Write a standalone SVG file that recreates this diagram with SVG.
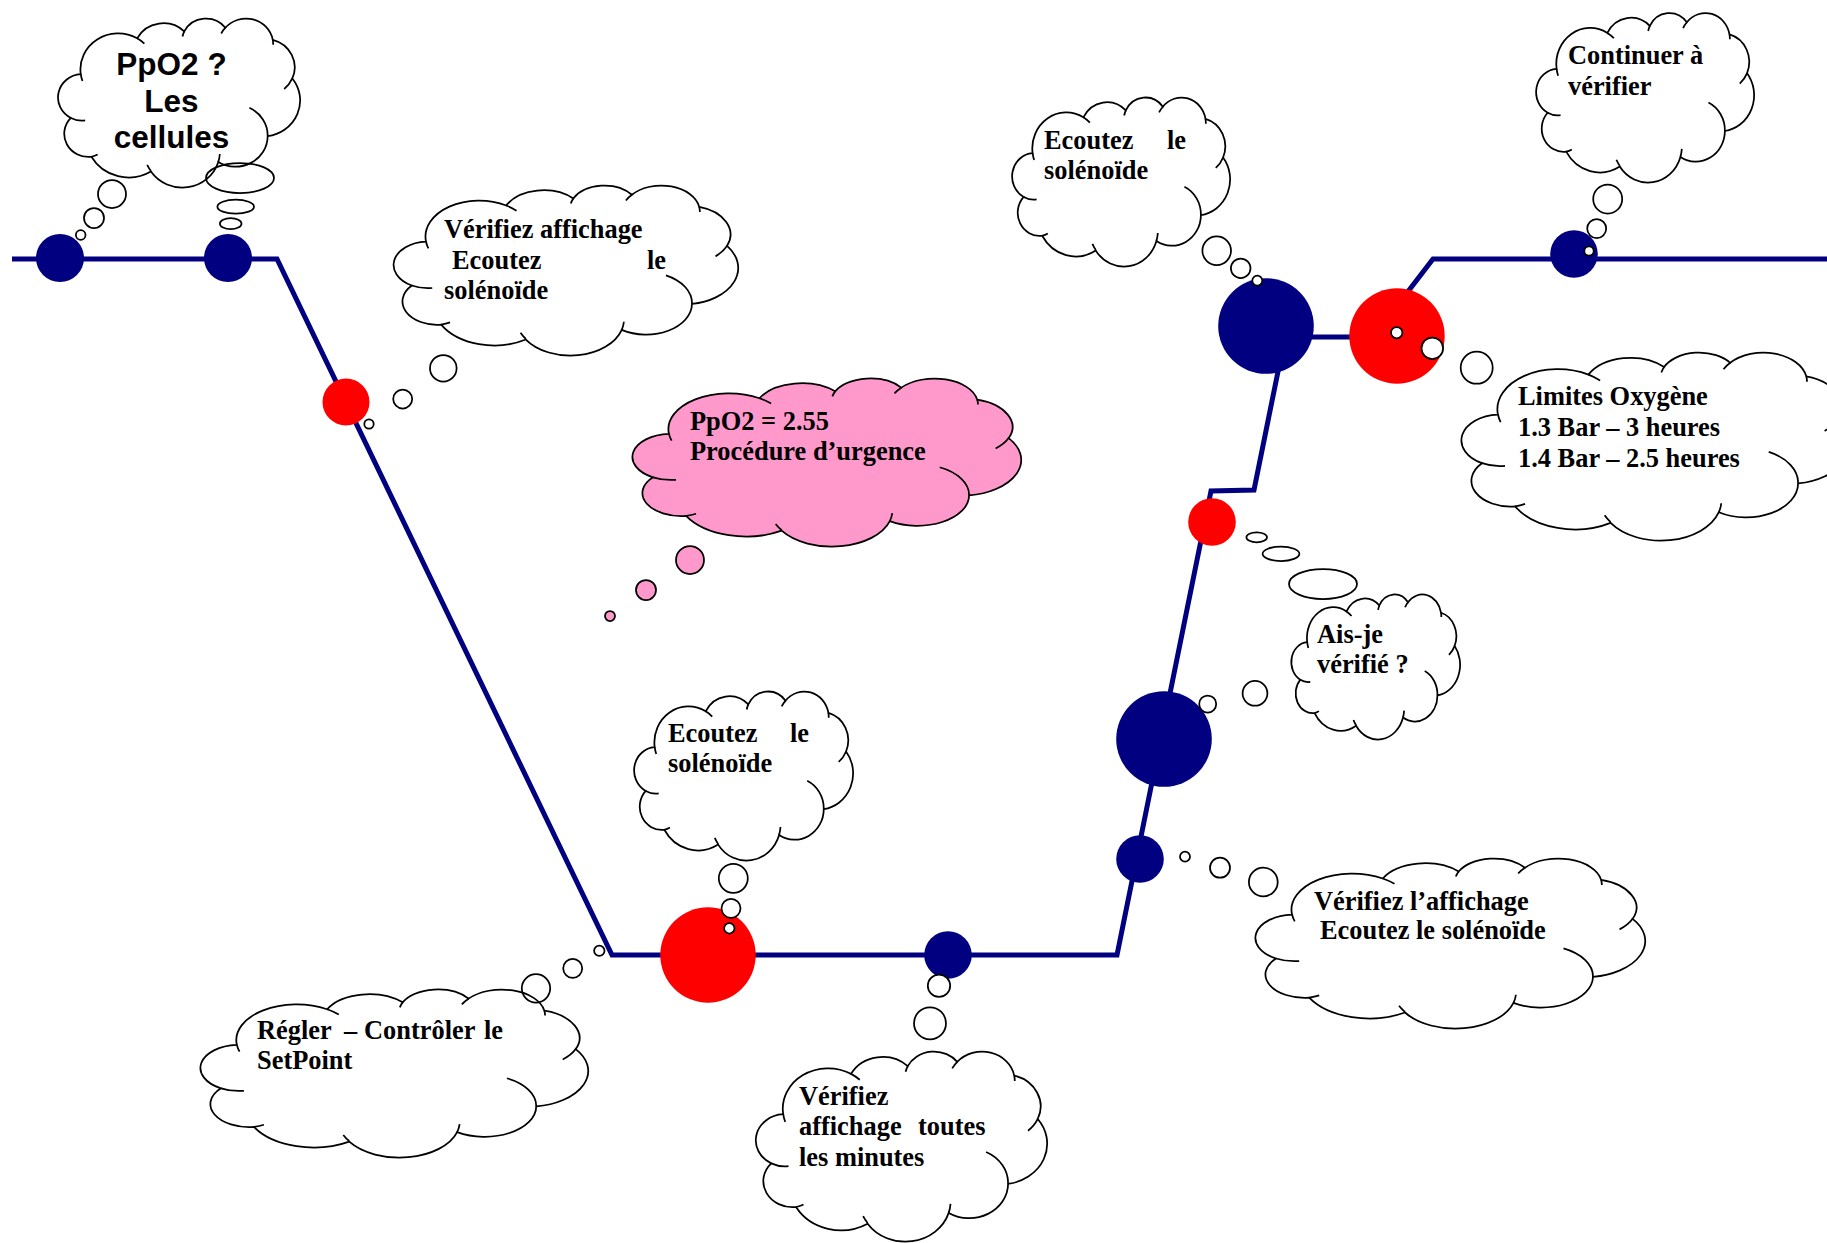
<svg xmlns="http://www.w3.org/2000/svg" width="1827" height="1243" viewBox="0 0 1827 1243">
<style>
.line{fill:none;stroke:#000080;stroke-width:5;stroke-linejoin:miter}
.navy{fill:#000080}
.red{fill:#ff0000}
.cf{fill:#fff;stroke:none}
.cfp{fill:#ff99cc;stroke:none}
.cs{fill:none;stroke:#000;stroke-width:1.75}
.b{fill:#fff;stroke:#000;stroke-width:1.75}
.bp{fill:#ff99cc;stroke:#000;stroke-width:1.75}
.t{font-family:"Liberation Serif","Times New Roman",serif;font-weight:bold;font-size:26.4px;fill:#000}
.ta{font-family:"Liberation Sans",Arial,sans-serif;font-weight:bold;font-size:31.5px;fill:#000;text-anchor:middle}
</style>
<defs>
<symbol id="cloudFill" viewBox="0 0 100 100" preserveAspectRatio="none" style="overflow:visible">
<path d="M9.03,33.26 A15.63,21.27 0 0 1 32.42,12.04 A12.34,16.82 0 0 1 51.98,7.94 A10.10,13.76 0 0 1 69.06,5.74 A11.24,15.27 0 0 1 88.70,12.91 A12.34,16.84 0 0 1 96.81,35.78 A15.68,21.34 0 0 1 86.59,69.91 A13.39,18.21 0 0 1 66.10,85.21 A15.63,21.33 0 0 1 38.15,90.89 A17.87,24.41 0 0 1 13.46,82.11 A10.09,13.70 0 0 1 4.91,59.13 A10.06,13.76 0 0 1 9.03,33.26 Z"/>
</symbol>
<symbol id="cloudLine" viewBox="0 0 100 100" preserveAspectRatio="none" style="overflow:visible">
<path vector-effect="non-scaling-stroke" d="M9.03,33.26 A15.63,21.27 0 0 1 32.42,12.04 A12.34,16.82 0 0 1 51.98,7.94 A10.10,13.76 0 0 1 69.06,5.74 A11.24,15.27 0 0 1 88.70,12.91 A12.34,16.84 0 0 1 96.81,35.78 A15.68,21.34 0 0 1 86.59,69.91 A13.39,18.21 0 0 1 66.10,85.21 A15.63,21.33 0 0 1 38.15,90.89 A17.87,24.41 0 0 1 13.46,82.11 A10.09,13.70 0 0 1 4.91,59.13 A10.06,13.76 0 0 1 9.03,33.26 Z"/>
<path vector-effect="non-scaling-stroke" d="M10.86,60.59 A10.06,13.76 0 0 1 4.91,59.13 M16.04,80.78 A10.09,13.70 0 0 1 13.46,82.11 M38.14,90.49 A15.63,21.33 0 0 1 36.60,86.86 M66.73,80.44 A15.63,21.33 0 0 1 66.10,85.21 M79.00,53.13 A13.39,18.21 0 0 1 86.59,69.91 M96.81,35.78 A12.34,16.84 0 0 1 93.44,41.99 M88.70,12.91 A11.24,15.27 0 0 1 88.88,15.83 M67.31,9.15 A11.24,15.27 0 0 1 69.06,5.74 M51.25,10.93 A10.10,13.76 0 0 1 51.98,7.94 M32.42,12.04 A15.63,21.27 0 0 1 35.43,15.15 M9.03,33.26 A15.63,21.27 0 0 0 9.73,37.29"/>
</symbol>
</defs>
<rect width="1827" height="1243" fill="#fff"/>

<g id="connectors">
<path class="line" d="M12,259 L277,259 L612,955 L1117,955 L1211,491 L1254,490 L1285,337 L1373,337 L1433,259 L1827,259"/>
</g>

<g id="dots">
<g id="d1"><circle class="navy" cx="60" cy="258" r="24"/></g>
<g id="d2"><circle class="navy" cx="228" cy="258" r="24"/></g>
<g id="d3"><circle class="red" cx="346" cy="402" r="23.5"/></g>
<g id="d4"><circle class="red" cx="708" cy="955" r="47.7"/></g>
<g id="d5"><circle class="navy" cx="948" cy="955" r="23.8"/></g>
<g id="d6"><circle class="navy" cx="1140" cy="859" r="23.8"/></g>
<g id="d7"><circle class="navy" cx="1164" cy="739" r="47.8"/></g>
<g id="d8"><circle class="red" cx="1212" cy="522" r="23.8"/></g>
<g id="d9"><circle class="navy" cx="1266" cy="326" r="47.8"/></g>
<g id="d10"><circle class="red" cx="1397" cy="336" r="47.7"/></g>
<g id="d11"><circle class="navy" cx="1574" cy="254" r="23.8"/></g>
</g>

<g id="cloud-cellules">
<use href="#cloudFill" class="cf" x="59" y="18" width="241" height="169"/>
<circle class="b" cx="80.7" cy="235" r="4.8"/>
<circle class="b" cx="94" cy="218" r="10"/>
<circle class="b" cx="112" cy="194" r="14"/>
<ellipse class="b" cx="240" cy="178" rx="34" ry="15"/>
<ellipse class="b" cx="235.7" cy="206.7" rx="18.3" ry="7"/>
<ellipse class="b" cx="230.7" cy="223.7" rx="10.8" ry="5.5"/>
<use href="#cloudLine" class="cs" x="59" y="18" width="241" height="169"/>
<text class="ta" x="171.5" y="75">PpO2 ?</text>
<text class="ta" x="171.5" y="111.7">Les</text>
<text class="ta" x="171.5" y="148.3">cellules</text>
</g>

<g id="cloud-verifiez1">
<use href="#cloudFill" class="cf" x="395" y="185" width="343" height="170"/>
<circle class="b" cx="443.3" cy="368.3" r="13.3"/>
<circle class="b" cx="402.7" cy="399" r="9.5"/>
<circle class="b" cx="369" cy="424" r="4.7"/>
<use href="#cloudLine" class="cs" x="395" y="185" width="343" height="170"/>
<text class="t" x="444" y="238">Vérifiez affichage</text>
<text class="t" x="452" y="269">Ecoutez</text>
<text class="t" x="647" y="269">le</text>
<text class="t" x="444" y="299">solénoïde</text>
</g>

<g id="cloud-urgence">
<use href="#cloudFill" class="cfp" x="634" y="378" width="387" height="168"/>
<circle class="bp" cx="690" cy="560" r="14"/>
<circle class="bp" cx="646" cy="590" r="10"/>
<circle class="bp" cx="610" cy="616" r="5"/>
<use href="#cloudLine" class="cs" x="634" y="378" width="387" height="168"/>
<text class="t" x="690" y="430">PpO2 = 2.55</text>
<text class="t" x="690" y="460">Procédure d’urgence</text>
</g>

<g id="cloud-ecoutez-bas">
<use href="#cloudFill" class="cf" x="635" y="691" width="218" height="169"/>
<circle class="b" cx="733.3" cy="878.3" r="14.5"/>
<circle class="b" cx="731" cy="908.3" r="9.5"/>
<circle class="b" cx="729.3" cy="928.3" r="5.2"/>
<use href="#cloudLine" class="cs" x="635" y="691" width="218" height="169"/>
<text class="t" x="668" y="742">Ecoutez</text>
<text class="t" x="790" y="742">le</text>
<text class="t" x="668" y="772">solénoïde</text>
</g>

<g id="cloud-minutes">
<use href="#cloudFill" class="cf" x="757" y="1051" width="290" height="190"/>
<circle class="b" cx="939" cy="985.7" r="11.2"/>
<circle class="b" cx="930" cy="1023.3" r="16"/>
<use href="#cloudLine" class="cs" x="757" y="1051" width="290" height="190"/>
<text class="t" x="799" y="1105">Vérifiez</text>
<text class="t" x="799" y="1135">affichage</text>
<text class="t" x="918" y="1135">toutes</text>
<text class="t" x="799" y="1166">les minutes</text>
</g>

<g id="cloud-setpoint">
<use href="#cloudFill" class="cf" x="202" y="989" width="386" height="168"/>
<circle class="b" cx="536" cy="988.3" r="14.2"/>
<circle class="b" cx="572.7" cy="968.3" r="9.5"/>
<circle class="b" cx="599.3" cy="950.7" r="5.2"/>
<use href="#cloudLine" class="cs" x="202" y="989" width="386" height="168"/>
<text class="t" x="257" y="1039">Régler</text>
<text class="t" x="344" y="1039">–</text>
<text class="t" x="364" y="1039">Contrôler</text>
<text class="t" x="484" y="1039">le</text>
<text class="t" x="257" y="1069">SetPoint</text>
</g>

<g id="cloud-ecoutez-haut">
<use href="#cloudFill" class="cf" x="1013" y="97" width="217" height="169"/>
<circle class="b" cx="1216.7" cy="250.7" r="14.3"/>
<circle class="b" cx="1240.7" cy="268.3" r="9.8"/>
<circle class="b" cx="1257.3" cy="280.7" r="5"/>
<use href="#cloudLine" class="cs" x="1013" y="97" width="217" height="169"/>
<text class="t" x="1044" y="149">Ecoutez</text>
<text class="t" x="1167" y="149">le</text>
<text class="t" x="1044" y="179">solénoïde</text>
</g>

<g id="cloud-continuer">
<use href="#cloudFill" class="cf" x="1537" y="12.5" width="217" height="169.5"/>
<circle class="b" cx="1589" cy="251" r="4.7"/>
<circle class="b" cx="1596.7" cy="228.6" r="9.5"/>
<circle class="b" cx="1607.7" cy="199" r="14.5"/>
<use href="#cloudLine" class="cs" x="1537" y="12.5" width="217" height="169.5"/>
<text class="t" x="1568" y="64">Continuer à</text>
<text class="t" x="1568" y="94.6">vérifier</text>
</g>

<g id="cloud-limites">
<use href="#cloudFill" class="cf" x="1463" y="352" width="387" height="188"/>
<circle class="b" cx="1396.7" cy="332.7" r="5.7"/>
<circle class="b" cx="1432.3" cy="348.3" r="10.8"/>
<circle class="b" cx="1476.7" cy="367.7" r="16"/>
<use href="#cloudLine" class="cs" x="1463" y="352" width="387" height="188"/>
<text class="t" x="1518" y="405">Limites Oxygène</text>
<text class="t" x="1518" y="436">1.3 Bar – 3 heures</text>
<text class="t" x="1518" y="467">1.4 Bar – 2.5 heures</text>
</g>

<g id="cloud-aisje">
<use href="#cloudFill" class="cf" x="1292" y="594" width="168" height="145"/>
<ellipse class="b" cx="1256.7" cy="537.3" rx="10.3" ry="5"/>
<ellipse class="b" cx="1281" cy="553.8" rx="18.4" ry="7.2"/>
<ellipse class="b" cx="1323" cy="584" rx="34" ry="15"/>
<circle class="b" cx="1207.7" cy="704" r="8.5"/>
<circle class="b" cx="1255" cy="693.3" r="12.4"/>
<use href="#cloudLine" class="cs" x="1292" y="594" width="168" height="145"/>
<text class="t" x="1317" y="643">Ais-je</text>
<text class="t" x="1317" y="673">vérifié ?</text>
</g>

<g id="cloud-verifiez2">
<use href="#cloudFill" class="cf" x="1257" y="858" width="388" height="170"/>
<circle class="b" cx="1185" cy="856.7" r="5"/>
<circle class="b" cx="1220" cy="867.7" r="10"/>
<circle class="b" cx="1263.3" cy="882" r="14.4"/>
<use href="#cloudLine" class="cs" x="1257" y="858" width="388" height="170"/>
<text class="t" x="1314" y="910">Vérifiez l’affichage</text>
<text class="t" x="1320" y="939">Ecoutez le solénoïde</text>
</g>
</svg>
